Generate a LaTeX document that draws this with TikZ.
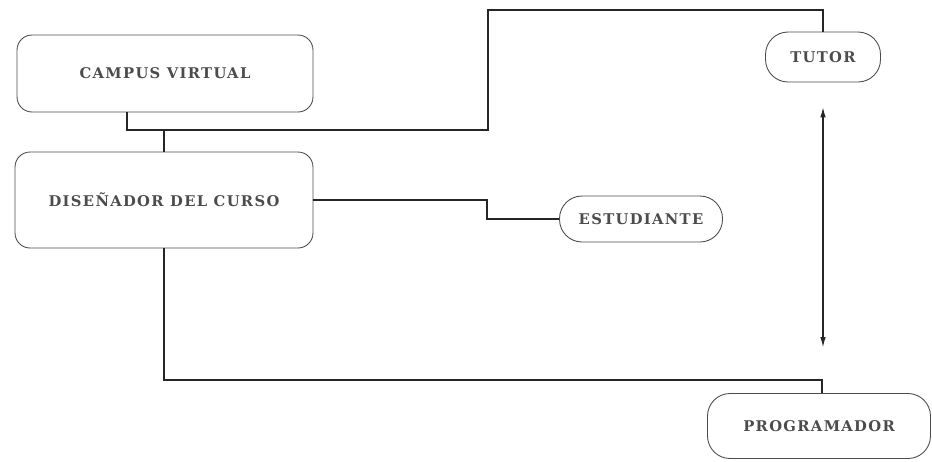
\documentclass[tikz,border=0pt]{standalone}
\usepackage{fontspec}
\setmainfont{DejaVu Serif}[LetterSpace=9]
\usetikzlibrary{arrows.meta}

\begin{document}
\begin{tikzpicture}[x=0.02cm,y=-0.02cm]

    \tikzstyle{block} = [draw=black!70, line width=0.5pt, rectangle, rounded corners=0.3cm, font=\fontsize{8.4}{10}\selectfont\bfseries, text=black!70]
    \tikzstyle{line} = [draw=black!85, line width=0.6pt]

    \useasboundingbox (0,0) rectangle (932,461);

    \node[block, minimum width=5.92cm, minimum height=1.54cm] (campus) at (165,73.5) {CAMPUS VIRTUAL};
    \node[block, minimum width=5.96cm, minimum height=1.92cm] (disenador) at (164,200) {DISEÑADOR DEL CURSO};
    \node[block, rounded corners=0.45cm, minimum width=2.3cm, minimum height=1cm] (tutor) at (823,57) {TUTOR};
    \node[block, rounded corners=0.45cm, minimum width=3.26cm, minimum height=0.92cm] (estudiante) at (641,219) {ESTUDIANTE};
    \node[block, rounded corners=0.45cm, minimum width=4.46cm, minimum height=1.3cm] (programador) at (819,426) {PROGRAMADOR};

    \coordinate (k1) at (488,130);
    \coordinate (k2) at (488,10);
    \coordinate (k3) at (487,200);
    \coordinate (k4) at (822,380);

    \draw[line] ([xshift=-0.76cm]campus.south) |- (k1) -- (k2) -| (tutor.north);
    \draw[line] (disenador.north) -- (disenador.north |- k1);
    \draw[line] (disenador.east) -- (k3) |- (estudiante.west);
    \draw[line] (disenador.south) |- (k4) -- (k4 |- programador.north);
    \draw[line, {Latex[length=2mm,width=1.1mm]}-{Latex[length=2mm,width=1.1mm]}, shorten <=0.5cm, shorten >=0.92cm] (tutor.south) -- (tutor.south |- programador.north);
\end{tikzpicture}
\end{document}
